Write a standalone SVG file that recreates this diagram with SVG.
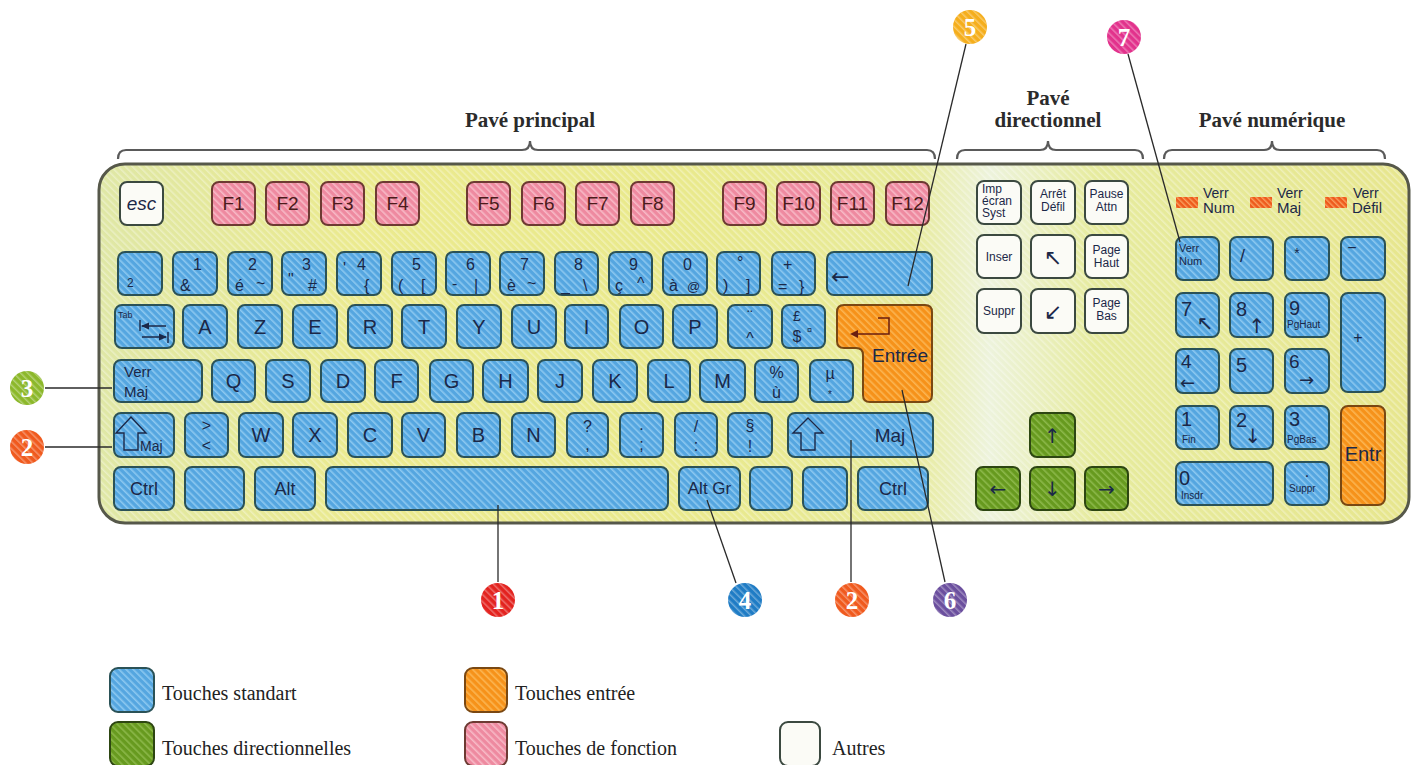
<svg xmlns="http://www.w3.org/2000/svg" width="1413" height="765" viewBox="0 0 1413 765">
<defs>
<linearGradient id="body" x1="0" y1="0" x2="1" y2="0">
<stop offset="0" stop-color="#dfe7a6"/>
<stop offset="0.2" stop-color="#ebea8e"/>
<stop offset="0.45" stop-color="#e9e98c"/>
<stop offset="0.62" stop-color="#e7ea9a"/>
<stop offset="0.68" stop-color="#edf3dc"/>
<stop offset="0.76" stop-color="#e6eb9e"/>
<stop offset="1" stop-color="#e7e68e"/>
</linearGradient>
<pattern id="hw" patternUnits="userSpaceOnUse" width="5" height="5" patternTransform="rotate(-45)"><rect width="1.5" height="5" fill="#fff" fill-opacity="0.35"/></pattern>
<pattern id="hb" patternUnits="userSpaceOnUse" width="5" height="5" patternTransform="rotate(-45)"><rect width="5" height="5" fill="#55a6e0"/><rect width="1.6" height="5" fill="#8cc8f0"/></pattern>
<pattern id="hp" patternUnits="userSpaceOnUse" width="5" height="5" patternTransform="rotate(-45)"><rect width="5" height="5" fill="#ee8aa0"/><rect width="1.6" height="5" fill="#f7b9c6"/></pattern>
<pattern id="ho" patternUnits="userSpaceOnUse" width="5" height="5" patternTransform="rotate(-45)"><rect width="5" height="5" fill="#f6921a"/><rect width="1.6" height="5" fill="#fbb552"/></pattern>
<pattern id="hg" patternUnits="userSpaceOnUse" width="5" height="5" patternTransform="rotate(-45)"><rect width="5" height="5" fill="#679a1f"/><rect width="1.6" height="5" fill="#8cb84a"/></pattern>
<pattern id="hl" patternUnits="userSpaceOnUse" width="4" height="4" patternTransform="rotate(-45)"><rect width="4" height="4" fill="#ee5a1c"/><rect width="1.4" height="4" fill="#f9a060"/></pattern>
</defs>
<style>
.kb{fill:url(#hb);stroke:#2b5257;stroke-width:2}
.kp{fill:url(#hp);stroke:#6d3a32;stroke-width:2}
.ko{fill:url(#ho);stroke:#7a4812;stroke-width:2}
.kg{fill:url(#hg);stroke:#2d4612;stroke-width:2}
.kw{fill:#fbfbf6;stroke:#3b4940;stroke-width:2}
text{font-family:"Liberation Sans",Arial,sans-serif;fill:#1b2848}
.c{text-anchor:middle}
.L{font-size:20px}
.F{font-size:19px;fill:#4b1b1b}
.n{font-size:16px}
.sm{font-size:12px}
.xs{font-size:10px}
.ar{font-family:"DejaVu Sans",sans-serif}
.hd{font-family:"Liberation Serif",serif;font-weight:bold;font-size:21px;fill:#2b2b2b;text-anchor:middle}
.lg{font-family:"Liberation Serif",serif;font-size:20px;fill:#222}
.num{font-family:"Liberation Serif",serif;font-weight:bold;font-size:25px;fill:#fff;text-anchor:middle}
.ln{stroke:#2a2a2a;stroke-width:1.3;fill:none}
.br{stroke:#5a5a5a;stroke-width:2.2;fill:none}
.ic{fill:none;stroke:#1b2848;stroke-width:1.4}
.led{fill:url(#hl)}
</style>
<rect width="1413" height="765" fill="#ffffff"/>

<g id="headers">
<path class="br" d="M118 159 Q118 150 126 150 H522 Q530 150 530 141 Q530 150 538 150 H927 Q935 150 935 159"/>
<path class="br" d="M957 159 Q957 150 965 150 H1040 Q1048 150 1048 141 Q1048 150 1056 150 H1135 Q1143 150 1143 159"/>
<path class="br" d="M1164 159 Q1164 150 1172 150 H1264 Q1272 150 1272 141 Q1272 150 1280 150 H1377 Q1385 150 1385 159"/>
<text class="hd" x="530" y="127">Pavé principal</text>
<text class="hd" x="1048" y="105">Pavé</text>
<text class="hd" x="1048" y="127">directionnel</text>
<text class="hd" x="1272" y="127">Pavé numérique</text>
</g>

<g id="keyboard-body">
<rect x="99" y="164" width="1310" height="359" rx="26" fill="url(#body)"/>
<rect x="99" y="164" width="1310" height="359" rx="26" fill="url(#hw)" stroke="#56584a" stroke-width="3"/>
</g>

<g id="function-row">
<g id="key-esc"><rect class="kw" x="120" y="182" width="43" height="43" rx="7"/><text class="c" x="141.5" y="210" font-size="19" font-style="italic" fill="#222">esc</text></g>
<g id="key-F1"><rect class="kp" x="212" y="182" width="43" height="43" rx="7"/><text class="c F" x="233.5" y="210">F1</text></g>
<g id="key-F2"><rect class="kp" x="266" y="182" width="43" height="43" rx="7"/><text class="c F" x="287.5" y="210">F2</text></g>
<g id="key-F3"><rect class="kp" x="321" y="182" width="43" height="43" rx="7"/><text class="c F" x="342.5" y="210">F3</text></g>
<g id="key-F4"><rect class="kp" x="376" y="182" width="43" height="43" rx="7"/><text class="c F" x="397.5" y="210">F4</text></g>
<g id="key-F5"><rect class="kp" x="467" y="182" width="43" height="43" rx="7"/><text class="c F" x="488.5" y="210">F5</text></g>
<g id="key-F6"><rect class="kp" x="522" y="182" width="43" height="43" rx="7"/><text class="c F" x="543.5" y="210">F6</text></g>
<g id="key-F7"><rect class="kp" x="576" y="182" width="43" height="43" rx="7"/><text class="c F" x="597.5" y="210">F7</text></g>
<g id="key-F8"><rect class="kp" x="631" y="182" width="43" height="43" rx="7"/><text class="c F" x="652.5" y="210">F8</text></g>
<g id="key-F9"><rect class="kp" x="723" y="182" width="43" height="43" rx="7"/><text class="c F" x="744.5" y="210">F9</text></g>
<g id="key-F10"><rect class="kp" x="777" y="182" width="43" height="43" rx="7"/><text class="c F" x="798.5" y="210">F10</text></g>
<g id="key-F11"><rect class="kp" x="831" y="182" width="43" height="43" rx="7"/><text class="c F" x="852.5" y="210">F11</text></g>
<g id="key-F12"><rect class="kp" x="886" y="182" width="43" height="43" rx="7"/><text class="c F" x="907.5" y="210">F12</text></g>
</g>

<g id="number-row">
<g id="key-sup2"><rect class="kb" x="118" y="252" width="44" height="43" rx="7"/><text class="sm" x="127" y="287">2</text></g>
<g id="key-1"><rect class="kb" x="173" y="252" width="44" height="43" rx="7"/><text class="n" x="193" y="270">1</text><text class="n" x="180" y="291">&amp;</text></g>
<g id="key-2"><rect class="kb" x="228" y="252" width="44" height="43" rx="7"/><text class="n" x="248" y="270">2</text><text class="n" x="235" y="291">é</text><text class="n" x="256" y="289">~</text></g>
<g id="key-3"><rect class="kb" x="282" y="252" width="44" height="43" rx="7"/><text class="n" x="302" y="270">3</text><text class="n" x="288" y="285">"</text><text class="n" x="308" y="291">#</text></g>
<g id="key-4"><rect class="kb" x="337" y="252" width="44" height="43" rx="7"/><text class="n" x="357" y="270">4</text><text class="n" x="343" y="274">'</text><text class="n" x="364" y="291">{</text></g>
<g id="key-5"><rect class="kb" x="392" y="252" width="44" height="43" rx="7"/><text class="n" x="412" y="270">5</text><text class="n" x="398" y="291">(</text><text class="n" x="421" y="291">[</text></g>
<g id="key-6"><rect class="kb" x="446" y="252" width="44" height="43" rx="7"/><text class="n" x="466" y="270">6</text><text class="n" x="452" y="289">-</text><text class="n" x="474" y="291">|</text></g>
<g id="key-7"><rect class="kb" x="500" y="252" width="44" height="43" rx="7"/><text class="n" x="520" y="270">7</text><text class="n" x="507" y="291">è</text><text class="n" x="527" y="289">~</text></g>
<g id="key-8"><rect class="kb" x="555" y="252" width="43" height="43" rx="7"/><text class="n" x="574" y="270">8</text><text class="n" x="561" y="291">_</text><text class="n" x="583" y="291">\</text></g>
<g id="key-9"><rect class="kb" x="609" y="252" width="43" height="43" rx="7"/><text class="n" x="629" y="270">9</text><text class="n" x="615" y="291">ç</text><text class="n" x="637" y="289">^</text></g>
<g id="key-0"><rect class="kb" x="663" y="252" width="44" height="43" rx="7"/><text class="n" x="683" y="270">0</text><text class="n" x="669" y="291">à</text><text x="687" y="291" font-size="13">@</text></g>
<g id="key-deg"><rect class="kb" x="717" y="252" width="43" height="43" rx="7"/><text class="n" x="737" y="268">°</text><text class="n" x="723" y="291">)</text><text class="n" x="746" y="291">]</text></g>
<g id="key-plus"><rect class="kb" x="772" y="252" width="43" height="43" rx="7"/><text class="n" x="783" y="270">+</text><text class="n" x="778" y="292">=</text><text class="n" x="799" y="292">}</text></g>
<g id="key-backspace"><rect class="kb" x="827" y="252" width="105" height="43" rx="7"/><text class="ar" x="831" y="284" font-size="22">←</text></g>
</g>

<g id="row-azerty">
<g id="key-tab"><rect class="kb" x="115" y="305" width="59" height="43" rx="7"/><text x="118" y="318" font-size="9">Tab</text>
<path class="ic" d="M140 320 V331 M142 326 H166 M142 337 H166 M168 332 V343"/>
<path fill="#1b2848" d="M141 326 l8 -3.5 v7 z M167 337 l-8 -3.5 v7 z"/></g>
<g id="key-A"><rect class="kb" x="183" y="305" width="44" height="43" rx="7"/><text class="c L" x="205" y="334">A</text></g>
<g id="key-Z"><rect class="kb" x="238" y="305" width="44" height="43" rx="7"/><text class="c L" x="260" y="334">Z</text></g>
<g id="key-E"><rect class="kb" x="293" y="305" width="44" height="43" rx="7"/><text class="c L" x="315" y="334">E</text></g>
<g id="key-R"><rect class="kb" x="348" y="305" width="44" height="43" rx="7"/><text class="c L" x="370" y="334">R</text></g>
<g id="key-T"><rect class="kb" x="402" y="305" width="44" height="43" rx="7"/><text class="c L" x="424" y="334">T</text></g>
<g id="key-Y"><rect class="kb" x="457" y="305" width="44" height="43" rx="7"/><text class="c L" x="479" y="334">Y</text></g>
<g id="key-U"><rect class="kb" x="512" y="305" width="44" height="43" rx="7"/><text class="c L" x="534" y="334">U</text></g>
<g id="key-I"><rect class="kb" x="565" y="305" width="43" height="43" rx="7"/><text class="c L" x="586.5" y="334">I</text></g>
<g id="key-O"><rect class="kb" x="620" y="305" width="43" height="43" rx="7"/><text class="c L" x="641.5" y="334">O</text></g>
<g id="key-P"><rect class="kb" x="673" y="305" width="44" height="43" rx="7"/><text class="c L" x="695" y="334">P</text></g>
<g id="key-trema"><rect class="kb" x="728" y="305" width="44" height="43" rx="7"/><text class="c n" x="750" y="322">¨</text><text class="c n" x="750" y="344">^</text></g>
<g id="key-pound"><rect class="kb" x="782" y="305" width="43" height="43" rx="7"/><text class="c" x="797" y="321" font-size="14">£</text><text class="c n" x="797" y="342">$</text><text x="807" y="333" font-size="9">¤</text></g>
<g id="key-entree"><path class="ko" d="M844 305 H925 Q932 305 932 312 V395 Q932 402 925 402 H870 Q863 402 863 395 V355 Q863 348 856 348 H844 Q837 348 837 341 V312 Q837 305 844 305 Z"/>
<path fill="none" stroke="#6a1e10" stroke-width="1.5" d="M878 318 H889 V334 H855"/><path fill="#6a1e10" d="M850 334 l8 -4 v8 z"/>
<text class="c" x="900" y="362" font-size="19" fill="#6a1e10">Entrée</text></g>
</g>

<g id="row-qsdf">
<g id="key-verrmaj"><rect class="kb" x="114" y="360" width="88" height="42" rx="7"/><text x="124" y="377" font-size="15">Verr</text><text x="124" y="397" font-size="15">Maj</text></g>
<g id="key-Q"><rect class="kb" x="212" y="360" width="43" height="42" rx="7"/><text class="c L" x="233.5" y="388">Q</text></g>
<g id="key-S"><rect class="kb" x="266" y="360" width="44" height="42" rx="7"/><text class="c L" x="288" y="388">S</text></g>
<g id="key-D"><rect class="kb" x="321" y="360" width="44" height="42" rx="7"/><text class="c L" x="343" y="388">D</text></g>
<g id="key-F"><rect class="kb" x="375" y="360" width="43" height="42" rx="7"/><text class="c L" x="396.5" y="388">F</text></g>
<g id="key-G"><rect class="kb" x="430" y="360" width="43" height="42" rx="7"/><text class="c L" x="451.5" y="388">G</text></g>
<g id="key-H"><rect class="kb" x="483" y="360" width="45" height="42" rx="7"/><text class="c L" x="505.5" y="388">H</text></g>
<g id="key-J"><rect class="kb" x="538" y="360" width="44" height="42" rx="7"/><text class="c L" x="560" y="388">J</text></g>
<g id="key-K"><rect class="kb" x="593" y="360" width="44" height="42" rx="7"/><text class="c L" x="615" y="388">K</text></g>
<g id="key-L"><rect class="kb" x="648" y="360" width="42" height="42" rx="7"/><text class="c L" x="669" y="388">L</text></g>
<g id="key-M"><rect class="kb" x="700" y="360" width="45" height="42" rx="7"/><text class="c L" x="722.5" y="388">M</text></g>
<g id="key-ugrave"><rect class="kb" x="755" y="360" width="43" height="42" rx="7"/><text class="c n" x="776.5" y="378">%</text><text class="c n" x="776.5" y="398">ù</text></g>
<g id="key-mu"><rect class="kb" x="810" y="360" width="43" height="42" rx="7"/><text class="c n" x="830" y="379">µ</text><text class="c xs" x="830" y="398">*</text></g>
</g>

<g id="row-wxcv">
<g id="key-lshift"><rect class="kb" x="114" y="413" width="60" height="44" rx="7"/><path class="ic" d="M131 417 L116 433 H124 V450 H138 V433 H146 Z"/><text x="140" y="451" font-size="14">Maj</text></g>
<g id="key-lt"><rect class="kb" x="185" y="413" width="43" height="44" rx="7"/><text class="c n" x="206.5" y="431">&gt;</text><text class="c n" x="206.5" y="451">&lt;</text></g>
<g id="key-W"><rect class="kb" x="239" y="413" width="44" height="44" rx="7"/><text class="c L" x="261" y="442">W</text></g>
<g id="key-X"><rect class="kb" x="293" y="413" width="44" height="44" rx="7"/><text class="c L" x="315" y="442">X</text></g>
<g id="key-C"><rect class="kb" x="348" y="413" width="44" height="44" rx="7"/><text class="c L" x="370" y="442">C</text></g>
<g id="key-V"><rect class="kb" x="402" y="413" width="43" height="44" rx="7"/><text class="c L" x="423.5" y="442">V</text></g>
<g id="key-B"><rect class="kb" x="457" y="413" width="43" height="44" rx="7"/><text class="c L" x="478.5" y="442">B</text></g>
<g id="key-N"><rect class="kb" x="512" y="413" width="43" height="44" rx="7"/><text class="c L" x="533.5" y="442">N</text></g>
<g id="key-comma"><rect class="kb" x="567" y="413" width="41" height="44" rx="7"/><text class="c n" x="587.5" y="432">?</text><text class="c n" x="587.5" y="450">,</text></g>
<g id="key-semicolon"><rect class="kb" x="620" y="413" width="43" height="44" rx="7"/><text class="c n" x="641.5" y="430">.</text><text class="c n" x="641.5" y="450">;</text></g>
<g id="key-colon"><rect class="kb" x="675" y="413" width="42" height="44" rx="7"/><text class="c n" x="696" y="432">/</text><text class="c n" x="696" y="451">:</text></g>
<g id="key-excl"><rect class="kb" x="728" y="413" width="44" height="44" rx="7"/><text class="c n" x="750" y="431">§</text><text class="c n" x="750" y="452">!</text></g>
<g id="key-rshift"><rect class="kb" x="788" y="413" width="145" height="44" rx="7"/><path class="ic" d="M808 418 L793 433 H801 V450 H815 V433 H823 Z"/><text class="c" x="890" y="442" font-size="19">Maj</text></g>
</g>

<g id="row-bottom">
<g id="key-lctrl"><rect class="kb" x="114" y="467" width="60" height="43" rx="7"/><text class="c" x="144" y="495" font-size="18">Ctrl</text></g>
<g id="key-win"><rect class="kb" x="185" y="467" width="59" height="43" rx="7"/></g>
<g id="key-alt"><rect class="kb" x="255" y="467" width="60" height="43" rx="7"/><text class="c" x="285" y="495" font-size="18">Alt</text></g>
<g id="key-space"><rect class="kb" x="326" y="467" width="342" height="43" rx="7"/></g>
<g id="key-altgr"><rect class="kb" x="679" y="467" width="61" height="43" rx="7"/><text class="c" x="709.5" y="494" font-size="17">Alt Gr</text></g>
<g id="key-blank1"><rect class="kb" x="750" y="467" width="42" height="43" rx="7"/></g>
<g id="key-blank2"><rect class="kb" x="803" y="467" width="44" height="43" rx="7"/></g>
<g id="key-rctrl"><rect class="kb" x="858" y="467" width="70" height="43" rx="7"/><text class="c" x="893" y="495" font-size="18">Ctrl</text></g>
</g>

<g id="directional-pad">
<g id="key-imp"><rect class="kw" x="977" y="181" width="44" height="43" rx="7"/><text class="sm" x="982" y="193">Imp</text><text class="sm" x="982" y="205">écran</text><text class="sm" x="982" y="217">Syst</text></g>
<g id="key-arret"><rect class="kw" x="1031" y="181" width="44" height="43" rx="7"/><text class="c sm" x="1053" y="198">Arrêt</text><text class="c sm" x="1053" y="211">Défil</text></g>
<g id="key-pause"><rect class="kw" x="1085" y="181" width="43" height="43" rx="7"/><text class="c sm" x="1106.5" y="198">Pause</text><text class="c sm" x="1106.5" y="211">Attn</text></g>
<g id="key-inser"><rect class="kw" x="977" y="235" width="44" height="43" rx="7"/><text class="c sm" x="999" y="261">Inser</text></g>
<g id="key-home"><rect class="kw" x="1031" y="235" width="44" height="43" rx="7"/><text class="c ar" x="1053" y="265" font-size="22">↖</text></g>
<g id="key-pgup"><rect class="kw" x="1085" y="235" width="43" height="43" rx="7"/><text class="c sm" x="1106.5" y="254">Page</text><text class="c sm" x="1106.5" y="267">Haut</text></g>
<g id="key-suppr"><rect class="kw" x="977" y="289" width="44" height="44" rx="7"/><text class="c sm" x="999" y="315">Suppr</text></g>
<g id="key-end"><rect class="kw" x="1031" y="289" width="44" height="44" rx="7"/><text class="c ar" x="1053" y="319" font-size="22">↙</text></g>
<g id="key-pgdn"><rect class="kw" x="1085" y="289" width="43" height="44" rx="7"/><text class="c sm" x="1106.5" y="307">Page</text><text class="c sm" x="1106.5" y="320">Bas</text></g>
<g id="key-up"><rect class="kg" x="1030" y="413" width="45" height="44" rx="7"/><text class="c ar" x="1052.5" y="443" font-size="20" fill="#16240a">↑</text></g>
<g id="key-left"><rect class="kg" x="976" y="467" width="44" height="43" rx="7"/><text class="c ar" x="998" y="496" font-size="20" fill="#16240a">←</text></g>
<g id="key-down"><rect class="kg" x="1030" y="467" width="45" height="43" rx="7"/><text class="c ar" x="1052.5" y="496" font-size="20" fill="#16240a">↓</text></g>
<g id="key-right"><rect class="kg" x="1085" y="467" width="43" height="43" rx="7"/><text class="c ar" x="1106.5" y="496" font-size="20" fill="#16240a">→</text></g>
</g>

<g id="indicators">
<rect class="led" x="1176" y="197" width="22" height="11"/><text x="1203" y="198" font-size="14">Verr</text><text x="1203" y="213" font-size="15">Num</text>
<rect class="led" x="1250" y="197" width="22" height="11"/><text x="1277" y="198" font-size="14">Verr</text><text x="1277" y="213" font-size="15">Maj</text>
<rect class="led" x="1325" y="197" width="22" height="11"/><text x="1353" y="198" font-size="14">Verr</text><text x="1352" y="213" font-size="15">Défil</text>
</g>

<g id="numeric-pad">
<g id="key-verrnum"><rect class="kb" x="1176" y="237" width="43" height="43" rx="7"/><text x="1179" y="252" font-size="11">Verr</text><text x="1179" y="265" font-size="11">Num</text></g>
<g id="key-div"><rect class="kb" x="1230" y="237" width="43" height="43" rx="7"/><text x="1240" y="262" font-size="18">/</text></g>
<g id="key-mul"><rect class="kb" x="1285" y="237" width="44" height="43" rx="7"/><text class="c" x="1297" y="258" font-size="14">*</text></g>
<g id="key-minus"><rect class="kb" x="1341" y="237" width="44" height="43" rx="7"/><text class="c" x="1352" y="253" font-size="16">−</text></g>
<g id="key-n7"><rect class="kb" x="1176" y="293" width="43" height="44" rx="7"/><text x="1181" y="316" font-size="20">7</text><text class="c ar" x="1205" y="330" font-size="20">↖</text></g>
<g id="key-n8"><rect class="kb" x="1230" y="293" width="43" height="44" rx="7"/><text x="1236" y="316" font-size="20">8</text><text class="c ar" x="1257" y="333" font-size="20">↑</text></g>
<g id="key-n9"><rect class="kb" x="1285" y="293" width="44" height="44" rx="7"/><text x="1289" y="315" font-size="20">9</text><text x="1287" y="328" font-size="10">PgHaut</text></g>
<g id="key-nplus"><rect class="kb" x="1341" y="293" width="44" height="99" rx="7"/><text class="c" x="1358" y="343" font-size="16">+</text></g>
<g id="key-n4"><rect class="kb" x="1176" y="349" width="43" height="44" rx="7"/><text x="1181" y="368" font-size="19">4</text><text class="ar" x="1180" y="389" font-size="18">←</text></g>
<g id="key-n5"><rect class="kb" x="1230" y="349" width="43" height="44" rx="7"/><text x="1236" y="372" font-size="20">5</text></g>
<g id="key-n6"><rect class="kb" x="1285" y="349" width="44" height="44" rx="7"/><text x="1289" y="368" font-size="19">6</text><text class="ar" x="1299" y="386" font-size="18">→</text></g>
<g id="key-n1"><rect class="kb" x="1176" y="406" width="43" height="43" rx="7"/><text x="1181" y="426" font-size="20">1</text><text x="1182" y="443" font-size="10">Fin</text></g>
<g id="key-n2"><rect class="kb" x="1230" y="406" width="43" height="43" rx="7"/><text x="1236" y="427" font-size="20">2</text><text class="c ar" x="1253" y="443" font-size="20">↓</text></g>
<g id="key-n3"><rect class="kb" x="1285" y="406" width="44" height="43" rx="7"/><text x="1289" y="426" font-size="20">3</text><text x="1287" y="443" font-size="10">PgBas</text></g>
<g id="key-nentr"><rect class="ko" x="1341" y="406" width="44" height="99" rx="7"/><text class="c" x="1363" y="461" font-size="20" fill="#6a1e10">Entr</text></g>
<g id="key-n0"><rect class="kb" x="1176" y="462" width="97" height="43" rx="7"/><text x="1179" y="485" font-size="20">0</text><text x="1181" y="499" font-size="10">Insdr</text></g>
<g id="key-ndot"><rect class="kb" x="1285" y="462" width="44" height="43" rx="7"/><text class="c" x="1307" y="477" font-size="16">.</text><text x="1289" y="492" font-size="10">Suppr</text></g>
</g>

<g id="connectors">
<line class="ln" x1="966" y1="44" x2="908" y2="286"/>
<line class="ln" x1="1128" y1="54" x2="1180" y2="242"/>
<line class="ln" x1="45" y1="388" x2="112" y2="388"/>
<line class="ln" x1="45" y1="447" x2="112" y2="447"/>
<line class="ln" x1="498" y1="582" x2="498" y2="505"/>
<line class="ln" x1="736" y1="583" x2="707" y2="500"/>
<line class="ln" x1="851" y1="582" x2="851" y2="440"/>
<line class="ln" x1="945" y1="582" x2="902" y2="390"/>
</g>

<g id="callouts">
<g id="callout-5"><circle cx="970" cy="27" r="17" fill="#f5ae1c"/><circle cx="970" cy="27" r="17" fill="url(#hw)"/><text class="num" x="970" y="36">5</text></g>
<g id="callout-7"><circle cx="1124" cy="37" r="17" fill="#e2328c"/><circle cx="1124" cy="37" r="17" fill="url(#hw)"/><text class="num" x="1124" y="46">7</text></g>
<g id="callout-3"><circle cx="27" cy="388" r="17" fill="#8cb82a"/><circle cx="27" cy="388" r="17" fill="url(#hw)"/><text class="num" x="27" y="397">3</text></g>
<g id="callout-2a"><circle cx="27" cy="447" r="17" fill="#f05a1e"/><circle cx="27" cy="447" r="17" fill="url(#hw)"/><text class="num" x="27" y="456">2</text></g>
<g id="callout-1"><circle cx="498" cy="600" r="17" fill="#e3231f"/><circle cx="498" cy="600" r="17" fill="url(#hw)"/><text class="num" x="498" y="609">1</text></g>
<g id="callout-4"><circle cx="745" cy="600" r="17" fill="#1f7cc5"/><circle cx="745" cy="600" r="17" fill="url(#hw)"/><text class="num" x="745" y="609">4</text></g>
<g id="callout-2b"><circle cx="852" cy="600" r="17" fill="#f05a1e"/><circle cx="852" cy="600" r="17" fill="url(#hw)"/><text class="num" x="852" y="609">2</text></g>
<g id="callout-6"><circle cx="950" cy="600" r="17" fill="#6b4f9e"/><circle cx="950" cy="600" r="17" fill="url(#hw)"/><text class="num" x="950" y="609">6</text></g>
</g>

<g id="legend">
<g id="legend-standard"><rect class="kb" x="110" y="668" width="44" height="44" rx="8"/><text class="lg" x="162" y="700">Touches standart</text></g>
<g id="legend-entree"><rect class="ko" x="465" y="668" width="42" height="44" rx="8"/><text class="lg" x="515" y="700">Touches entrée</text></g>
<g id="legend-direction"><rect class="kg" x="110" y="722" width="44" height="44" rx="8"/><text class="lg" x="162" y="755">Touches directionnelles</text></g>
<g id="legend-fonction"><rect class="kp" x="465" y="722" width="42" height="44" rx="8"/><text class="lg" x="515" y="755">Touches de fonction</text></g>
<g id="legend-autres"><rect class="kw" x="780" y="722" width="40" height="44" rx="8"/><text class="lg" x="832" y="755">Autres</text></g>
</g>
</svg>
